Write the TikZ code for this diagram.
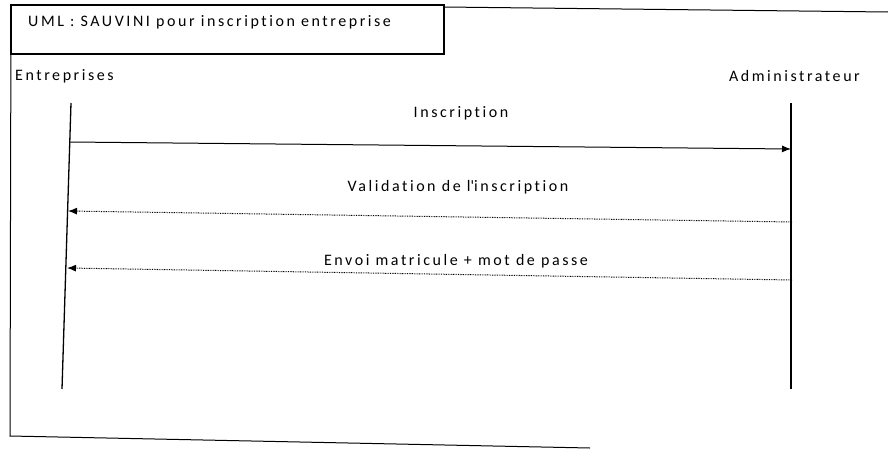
\documentclass[tikz,border=0pt]{standalone}
\usepackage{fontspec}
\setmainfont{Carlito}[LetterSpace=16,Ligatures=NoCommon]
\usetikzlibrary{arrows.meta}

\begin{document}
\begin{tikzpicture}[x=1pt,y=-1pt,font=\fontsize{16}{19}\selectfont,
    msg/.style={line width=1pt,-{Latex[length=9pt,width=7pt]}},
    retour/.style={msg,dash pattern=on 0.8pt off 0.9pt},
    lbl/.style={inner sep=0}]
      \useasboundingbox (0,0) rectangle (888,450);

      % cadre du diagramme
      \draw[line width=1pt] (444,7) -- (888,12);
      \draw[line width=1pt] (11,5) -- (10,436) -- (590,448);

      % titre
      \draw[line width=1.5pt] (11,5) rectangle (444,54);
      \node[lbl,anchor=west] (titre) at (28,22) {UML : SAUVINI pour inscription entreprise};

      % acteurs
      \node[lbl,anchor=west] (ent) at (15,76) {Entreprises};
      \node[lbl,anchor=east] (adm) at (860,76) {Administrateur};

      % lignes de vie
      \coordinate (e0) at (71,103);
      \coordinate (e9) at (62,389);
      \coordinate (a0) at (791,103);
      \coordinate (a9) at (791,389);
      \draw[line width=1.3pt] (e0) -- (e9);
      \draw[line width=1.3pt] (a0) -- (a9);

      % messages
      \coordinate (e1) at (70,142);
      \coordinate (a1) at (791,149);
      \draw[msg] (e1) -- (a1);
      \node[lbl] (m1) at (461,113) {Inscription};

      \coordinate (a2) at (792,222);
      \coordinate (e2) at (68,211);
      \draw[retour] (a2) -- (e2);
      \node[lbl] (m2) at (458,187) {Validation de l\textquotesingle inscription};

      \coordinate (a3) at (792,280);
      \coordinate (e3) at (67,268);
      \draw[retour] (a3) -- (e3);
      \node[lbl] (m3) at (456,261) {Envoi matricule + mot de passe};

    \end{tikzpicture}
\end{document}
